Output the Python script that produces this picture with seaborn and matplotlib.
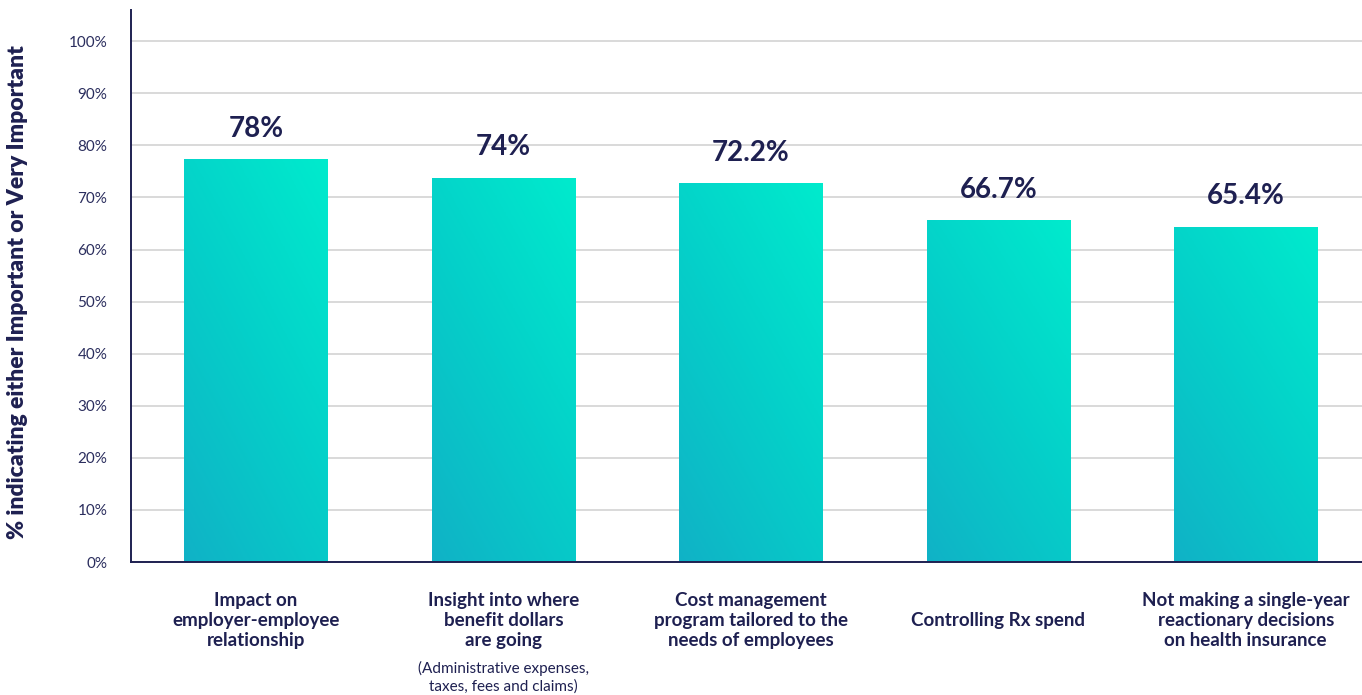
import numpy as np
import pandas as pd
import matplotlib
matplotlib.use("Agg")
import matplotlib.pyplot as plt
import seaborn as sns
from matplotlib.colors import LinearSegmentedColormap
import matplotlib.transforms as mtransforms

categories = [
    "Impact on\nemployer-employee\nrelationship",
    "Insight into where\nbenefit dollars\nare going",
    "Cost management\nprogram tailored to the\nneeds of employees",
    "Controlling Rx spend",
    "Not making a single-year\nreactionary decisions\non health insurance",
]
bar_values = [77.3, 73.8, 72.75, 65.6, 64.4]
value_labels = ["78%", "74%", "72.2%", "66.7%", "65.4%"]
sub_labels = ["", "(Administrative expenses,\ntaxes, fees and claims)", "", "", ""]
y_ticks = [0, 10, 20, 30, 40, 50, 60, 70, 80, 90, 100]
y_label = "% indicating either Important or Very Important"

NAVY = "#1e2051"

sns.set_theme(style="white")
plt.rcParams["font.family"] = ["Lato", "DejaVu Sans"]

fig = plt.figure(figsize=(13.62, 6.95), dpi=100)
ax = fig.add_axes([131 / 1362, 1 - 562 / 695, 1 - 131 / 1362, (562 - 10) / 695])

df = pd.DataFrame({"cat": categories, "val": bar_values})
sns.barplot(data=df, x="cat", y="val", ax=ax, width=0.58, color="#05cfc9",
            saturation=1, zorder=2)

ax.set_yticks(y_ticks)
ax.set_yticklabels([f"{t}%" for t in y_ticks], fontsize=11, color="#2b2e5e")
ax.yaxis.grid(True, color="#cfcfcf", linewidth=1.1, zorder=0)
ax.set_axisbelow(True)
ax.tick_params(axis="both", length=0)
ax.tick_params(axis="y", pad=17)

for s in ["top", "right"]:
    ax.spines[s].set_visible(False)
for s in ["left", "bottom"]:
    ax.spines[s].set_color(NAVY)
    ax.spines[s].set_linewidth(1.4)
    ax.spines[s].set_zorder(5)

ax.set_xlabel("")
ax.set_ylabel(y_label, fontsize=16.5, fontweight="heavy", color=NAVY)
ax.yaxis.set_label_coords((18 - 131) / 1231, (562 - 292) / 552)
ax.yaxis.label.set_va("center")

# x tick labels vertically centred
ax.set_xticks(range(len(categories)))
ax.set_xticklabels(categories, fontsize=13.5, fontweight="bold", color=NAVY,
                   linespacing=1.22)
for t in ax.get_xticklabels():
    t.set_va("center")
ax.tick_params(axis="x", pad=42)

# gradient fill on bars
cmap = LinearSegmentedColormap.from_list("tg", ["#10b2c6", "#05cfc9", "#00ebcd"])
gx, gy = np.meshgrid(np.linspace(0, 1, 64), np.linspace(0, 1, 256))
grad = 0.4 * gx + 0.6 * gy
for p in ax.patches:
    x0, y0 = p.get_x(), p.get_y()
    w, h = p.get_width(), p.get_height()
    im = ax.imshow(grad, cmap=cmap, origin="lower", aspect="auto",
                   extent=[x0, x0 + w, y0, y0 + h], zorder=3, vmin=0, vmax=1)
    im.set_clip_path(p)
    p.set_edgecolor("none")
ax.set_xlim(-0.505, 4.47)
ax.set_ylim(0, 106)

# value labels
for i, (v, lab) in enumerate(zip(bar_values, value_labels)):
    ax.annotate(lab, xy=(i, v), xytext=(0, 22), textcoords="offset points",
                ha="center", va="center", fontsize=20, fontweight="bold",
                color=NAVY, zorder=6)

# sub labels
trans = mtransforms.blended_transform_factory(ax.transData, ax.transAxes)
for i, s in enumerate(sub_labels):
    if s:
        ax.annotate(s, xy=(i, 0), xycoords=trans, xytext=(0, -83),
                    textcoords="offset points", ha="center", va="center",
                    fontsize=11, color=NAVY, linespacing=1.35,
                    annotation_clip=False)

fig.savefig("out.png", dpi=100)
